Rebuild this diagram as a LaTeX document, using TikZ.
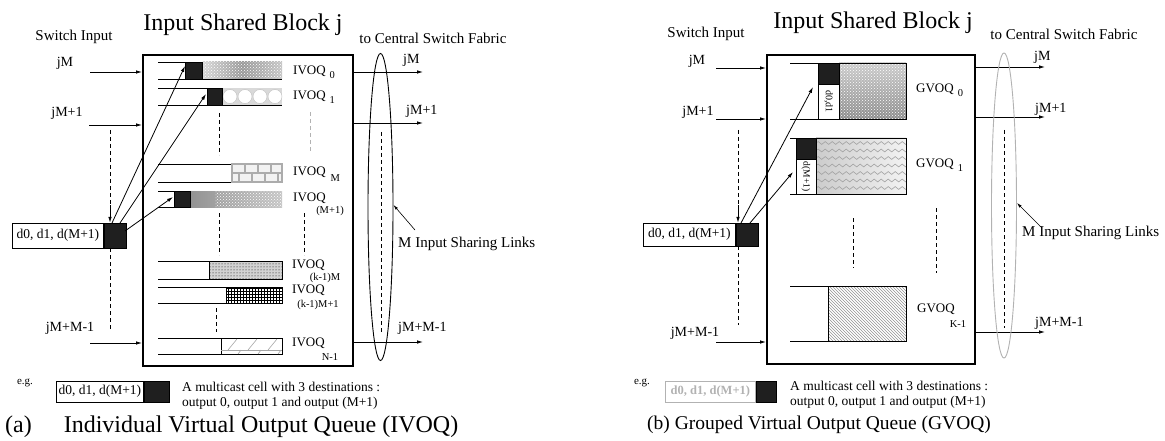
\documentclass[tikz,border=0pt]{standalone}
\usepackage{fontspec}
\setmainfont{Liberation Serif}
\usetikzlibrary{arrows.meta,patterns,shapes.geometric,decorations.pathmorphing}
\begin{document}
\begin{tikzpicture}[x=1pt,y=-1pt,
  lbl/.style={font=\fontsize{15}{17}\selectfont, inner sep=0pt},
  io/.style={font=\fontsize{14}{16}\selectfont, inner sep=0pt},
  ttl/.style={font=\fontsize{24}{26}\selectfont, inner sep=0pt},
  capa/.style={font=\fontsize{24}{26}\selectfont, inner sep=0pt, anchor=west},
  capb/.style={font=\fontsize{19.5}{22}\selectfont, inner sep=0pt, anchor=west},
  qlbl/.style={font=\fontsize{13}{15}\selectfont, inner sep=0pt, anchor=west},
  sub/.style={font=\fontsize{10.5}{12}\selectfont, inner sep=0pt},
  txt/.style={font=\fontsize{13.5}{15}\selectfont, inner sep=0pt, anchor=west},
  blk/.style={draw=black, line width=1.8pt, inner sep=0pt},
  qline/.style={line width=0.8pt},
  arr/.style={-{Latex[length=6pt,width=3.5pt]}, line width=0.8pt},
  blackcell/.style={fill=black!88, draw=black, inner sep=0pt},
  dsh/.style={dashed, dash pattern=on 4pt off 3pt, line width=0.7pt},
  cellbox/.style={draw, line width=0.8pt, fill=white, inner sep=0pt, font=\fontsize{13.5}{15}\selectfont}
]
\useasboundingbox (0,0) rectangle (1165,441);

% ================= Panel (a) =================
\node[lbl] (swa) at (74,37) {Switch Input};
\node[ttl] (tta) at (243,25) {Input Shared Block j};
\node[blk, minimum width=210pt, minimum height=311pt, anchor=north west] (boxA) at (142,54) {};

% inputs
\node[io] (ja0) at (65,63) {jM};
\node[io] (ja1) at (67,113) {jM+1};
\node[io] (ja2) at (70,328) {jM+M-1};
\coordinate (ia0) at (90,72);
\coordinate (ia1) at (89,125);
\coordinate (ia2) at (90,343);
\draw[arr] (ia0) -- (ia0 -| boxA.west);
\draw[arr] (ia1) -- (ia1 -| boxA.west);
\draw[arr] (ia2) -- (ia2 -| boxA.west);

% multicast cell (a)
\node[cellbox, minimum width=91pt, minimum height=25pt, anchor=west] (cellA) at (12,235.5) {d0, d1, d(M+1)};
\node[blackcell, minimum width=22pt, minimum height=25pt, anchor=west] (cellAk) at (cellA.east) {};
\coordinate (da0) at (110,130);
\coordinate (da1) at (110,248);
\coordinate (da2) at (110,330);
\draw[dsh] (da0) -- (110,212);
\draw[arr] (110,205) -- (cellAk.north west -| da0);
\draw[dsh] (da1) -- (da2);

% queues (a)
% IVOQ_0
\draw[qline] (158,62) -- (282,62); \draw[qline] (158,79) -- (282,79);
\shade[left color=gray!30, right color=gray!45, middle color=gray!80] (202,62) rectangle (282,79);
\fill[pattern=crosshatch dots, pattern color=white] (202,62) rectangle (282,79);
\draw[blackcell] (185,62) rectangle (202,79);
% IVOQ_1
\draw[qline] (158,88) -- (282,88); \draw[qline] (158,105) -- (282,105);
\fill[gray!30] (222,88) rectangle (282,105);
\begin{scope}
\clip (222,88) rectangle (282,105);
\foreach \cx in {230,245,260,275} \draw[gray!50, fill=white] (\cx,96.5) circle (7pt);
\end{scope}
\draw[blackcell] (207,88) rectangle (222,105);
% IVOQ_M
\draw[qline] (158,164) -- (282,164); \draw[qline] (158,182) -- (282,182);
\draw[gray!65, line width=1.1pt, fill=gray!10] (232,164) rectangle (282,182);
\draw[gray!65, line width=1.1pt] (232,173) -- (282,173);
\foreach \bx in {245,258,271} \draw[gray!65, line width=1.1pt] (\bx,164) -- (\bx,173);
\foreach \bx in {239,252,265,278} \draw[gray!65, line width=1.1pt] (\bx,173) -- (\bx,182);
% IVOQ_(M+1)
\draw[qline] (158,191) -- (282,191); \draw[qline] (158,207) -- (282,207);
\shade[left color=gray!85, right color=gray!45, middle color=gray!65] (190,191) rectangle (282,207);
\fill[pattern=crosshatch dots, pattern color=white] (215,191) rectangle (282,207);
\draw[blackcell] (174,191) rectangle (190,207);
% IVOQ_(k-1)M
\draw[qline] (158,261) -- (282,261); \draw[qline] (158,279) -- (282,279);
\fill[gray!35] (209,261) rectangle (282,279);
\fill[pattern=dots, pattern color=black] (209,261) rectangle (282,279);
\draw[qline] (209,261) rectangle (282,279);
% IVOQ_(k-1)M+1
\draw[qline] (158,287) -- (282,287); \draw[qline] (158,303) -- (282,303);
\fill[pattern=grid, pattern color=black] (226,287) rectangle (282,303);
\draw[qline] (226,287) rectangle (282,303);
% IVOQ_N-1
\draw[qline] (158,338) -- (282,338); \draw[qline] (158,354) -- (282,354);
\draw[qline] (221,338) rectangle (282,354);
\draw[gray!70, line width=0.6pt] (221,350) -- (282,350);
\foreach \sx in {228,248,268} \draw[gray!70, line width=0.6pt] (\sx,350) -- (\sx+9,339);
\foreach \sx in {238,258,278} \draw[gray!70, line width=0.6pt] (\sx,354) -- (\sx+3,350);

% inner dashed (a)
\draw[dsh] (219,113) -- (219,155);
\draw[dsh] (219,213) -- (219,255);
\draw[dsh] (216,308) -- (216,332);
\draw[dsh, gray!60] (310,112) -- (310,153);
\draw[dsh] (304,213) -- (304,255);

% queue labels (a)
\node[qlbl] (qa0) at (293,72) {IVOQ\hspace{4pt}\raisebox{-4pt}{\fontsize{10.5}{12}\selectfont 0}};
\node[qlbl] (qa1) at (293,97) {IVOQ\hspace{4pt}\raisebox{-4pt}{\fontsize{10.5}{12}\selectfont 1}};
\node[qlbl] (qaM) at (293,174) {IVOQ\hspace{5pt}\raisebox{-6pt}{\fontsize{10.5}{12}\selectfont M}};
\node[qlbl] (qaM1) at (293,198) {IVOQ};
\node[sub] (sM1) at (330,211) {(M+1)};
\node[qlbl] (qak) at (292,265) {IVOQ};
\node[sub] (sk) at (325,278) {(k-1)M};
\node[qlbl] (qak1) at (292,290) {IVOQ};
\node[sub] (sk1) at (318,305) {(k-1)M+1};
\node[qlbl] (qaN) at (292,343) {IVOQ};
\node[sub] (sN) at (330,357) {N-1};

% arrows from cell to queue heads (a)
\coordinate (ha0) at (185,66);
\coordinate (ha1) at (206,94);
\coordinate (ha2) at (173,197);
\coordinate (sa0) at (112,223);
\coordinate (sa1) at (120,223);
\coordinate (sa2) at (125,231);
\draw[arr] (sa0) -- (ha0);
\draw[arr] (sa1) -- (ha1);
\draw[arr] (sa2) -- (ha2);

% outputs (a)
\coordinate (oa0) at (423,72);
\coordinate (oa1) at (423,123);
\coordinate (oa2) at (423,342);
\draw[arr] (oa0 -| boxA.east) -- (oa0);
\draw[arr] (oa1 -| boxA.east) -- (oa1);
\draw[arr] (oa2 -| boxA.east) -- (oa2);
\node[io, anchor=west] (loa0) at (403,60) {jM};
\node[io, anchor=west] (loa1) at (406,111) {jM+1};
\node[io, anchor=west] (loa2) at (398,328) {jM+M-1};
\node[draw, ellipse, line width=0.9pt, minimum width=25pt, minimum height=307pt, inner sep=0pt] (ellA) at (380.5,207) {};
\draw[dsh] (381,132) -- (381,333);
\node[lbl] (cfa) at (433,38) {to Central Switch Fabric};
\node[lbl, anchor=west] (msa) at (398,244) {M Input Sharing Links};
\coordinate (pa0) at (415,230);
\draw[-{Latex[length=5pt,width=3pt]}, line width=0.6pt] (pa0) -- (ellA.east |- 0,205);

% example (a)
\node[font=\fontsize{11}{13}\selectfont, inner sep=0pt] (ega) at (25,383) {e.g.};
\node[cellbox, minimum width=87pt, minimum height=21pt, anchor=west] (exA) at (56,391.5) {d0, d1, d(M+1)};
\node[blackcell, minimum width=25pt, minimum height=21pt, anchor=west] (exAk) at (exA.east) {};
\node[txt] (ta1) at (182,387) {A multicast cell with 3 destinations :};
\node[txt] (ta2) at (182,403) {output 0, output 1 and output (M+1)};
\node[capa] (capA) at (5,427) {(a)\hspace{32pt}Individual Virtual Output Queue (IVOQ)};

% ================= Panel (b) =================
\node[lbl] (swb) at (706,34) {Switch Input};
\node[ttl] (ttb) at (873,23) {Input Shared Block j};
\node[blk, minimum width=208pt, minimum height=309pt, anchor=north west] (boxB) at (766,54) {};

\node[io] (jb0) at (697,61) {jM};
\node[io] (jb1) at (698,112) {jM+1};
\node[io] (jb2) at (695,333) {jM+M-1};
\coordinate (ib0) at (716,68);
\coordinate (ib1) at (716,119);
\coordinate (ib2) at (716,342);
\draw[arr] (ib0) -- (ib0 -| boxB.west);
\draw[arr] (ib1) -- (ib1 -| boxB.west);
\draw[arr] (ib2) -- (ib2 -| boxB.west);

\node[cellbox, minimum width=92pt, minimum height=23pt, anchor=west] (cellB) at (643,234.5) {d0, d1, d(M+1)};
\node[blackcell, minimum width=22pt, minimum height=23pt, anchor=west] (cellBk) at (cellB.east) {};
\coordinate (db0) at (738,130);
\coordinate (db1) at (738,246);
\coordinate (db2) at (738,325);
\draw[dsh] (db0) -- (738,212);
\draw[arr] (738,205) -- (cellBk.north west -| db0);
\draw[dsh] (db1) -- (db2);

% GVOQ_0
\draw[qline] (790,63) -- (906,63); \draw[qline] (790,119) -- (906,119);
\shade[top color=gray!40, bottom color=gray!90] (839,63) rectangle (906,119);
\fill[pattern=crosshatch dots, pattern color=white] (839,63) rectangle (906,119);
\draw[qline] (839,63) rectangle (906,119);
\draw[blackcell] (818,63) rectangle (839,84);
\node[draw, line width=0.6pt, fill=white, minimum width=21pt, minimum height=35pt, inner sep=0pt] (lb0) at (828.5,101.5) {};
\node[rotate=-90, font=\fontsize{10}{11}\selectfont, inner sep=0pt] (rb0) at (lb0.center) {d0,d1};
% GVOQ_1
\draw[qline] (790,138) -- (906,138); \draw[qline] (790,194) -- (906,194);
\shade[left color=gray!40, right color=gray!10] (816,138) rectangle (906,194);
\begin{scope}
\clip (816,138) rectangle (906,194);
\foreach \wy in {143,150.5,158,165.5,173,180.5,188}
  \draw[gray!75, line width=0.6pt, decorate, decoration={snake, amplitude=1.4pt, segment length=7pt}] (816,\wy) -- (910,\wy);
\end{scope}
\draw[qline] (816,138) rectangle (906,194);
\draw[blackcell] (796,138) rectangle (816,159);
\node[draw, line width=0.6pt, fill=white, minimum width=20pt, minimum height=35pt, inner sep=0pt] (lb1) at (806,176.5) {};
\node[rotate=-90, font=\fontsize{9.5}{10}\selectfont, inner sep=0pt] (rb1) at (lb1.center) {d(M+1)};
% GVOQ_K-1
\draw[qline] (790,286) -- (906,286); \draw[qline] (790,341) -- (906,341);
\fill[pattern=north west lines, pattern color=gray!85] (828,286) rectangle (906,341);
\draw[line width=1pt] (828,286) rectangle (906,341);

\draw[dsh] (853,218) -- (853,268);
\draw[dsh] (936,208) -- (936,273);

\node[qlbl] (qb0) at (916,90) {GVOQ\hspace{4pt}\raisebox{-4pt}{\fontsize{10.5}{12}\selectfont 0}};
\node[qlbl] (qb1) at (916,165) {GVOQ\hspace{4pt}\raisebox{-4pt}{\fontsize{10.5}{12}\selectfont 1}};
\node[qlbl] (qbK) at (917,309) {GVOQ};
\node[sub] (sK) at (958,324) {K-1};

\coordinate (hb0) at (813,87);
\coordinate (hb1) at (793,172);
\coordinate (sb0) at (741,223);
\coordinate (sb1) at (750,223);
\draw[arr] (sb0) -- (hb0);
\draw[arr] (sb1) -- (hb1);

% outputs (b)
\coordinate (ob0) at (1045,67);
\coordinate (ob1) at (1045,117);
\coordinate (ob2) at (1045,332);
\draw[arr] (ob0 -| boxB.east) -- (ob0);
\draw[arr] (ob1 -| boxB.east) -- (ob1);
\draw[arr] (ob2 -| boxB.east) -- (ob2);
\node[io, anchor=west] (lob0) at (1034,57) {jM};
\node[io, anchor=west] (lob1) at (1035,109) {jM+1};
\node[io, anchor=west] (lob2) at (1035,323) {jM+M-1};
\node[draw=gray!60, ellipse, line width=0.9pt, minimum width=25pt, minimum height=305pt, inner sep=0pt] (ellB) at (1004,205.5) {};
\draw[dsh] (1004,130) -- (1004,328);
\node[lbl] (cfb) at (1064,34) {to Central Switch Fabric};
\node[lbl, anchor=west] (msb) at (1022,233) {M Input Sharing Links};
\coordinate (pb0) at (1042,228);
\draw[-{Latex[length=5pt,width=3pt]}, line width=0.6pt] (pb0) -- (ellB.east |- 0,203);

% example (b)
\node[font=\fontsize{11}{13}\selectfont, inner sep=0pt] (egb) at (642,383) {e.g.};
\node[cellbox, draw=gray!60, text=gray!60, font=\bfseries\fontsize{12.5}{14}\selectfont, minimum width=90pt, minimum height=21pt, anchor=west] (exB) at (665,391.5) {d0, d1, d(M+1)};
\node[blackcell, minimum width=20pt, minimum height=21pt, anchor=west] (exBk) at (exB.east) {};
\node[txt] (tb1) at (790,386) {A multicast cell with 3 destinations :};
\node[txt] (tb2) at (790,402) {output 0, output 1 and output (M+1)};
\node[capb] (capB) at (647,425) {(b) Grouped Virtual Output Queue (GVOQ)};
\end{tikzpicture}
\end{document}
